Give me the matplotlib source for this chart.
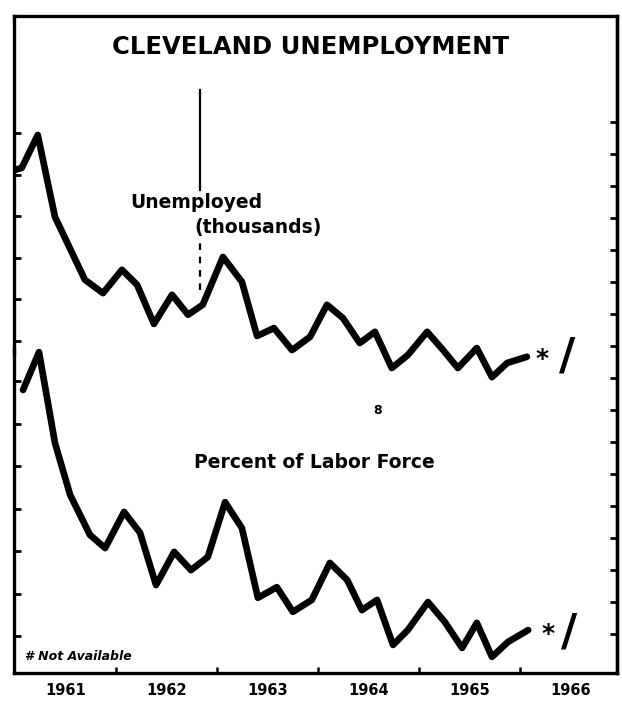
import matplotlib
matplotlib.use("Agg")
import matplotlib.pyplot as plt

# ---------------- data ----------------
# x = months since January 1961
unemp_months = [0.0, 0.8, 2.7, 4.75, 8.3, 10.45, 12.7, 14.5, 16.5, 18.65, 20.55, 22.3,
                24.7, 26.95, 28.75, 30.75, 32.9, 35.05, 37.05, 38.95, 40.95, 42.75,
                44.75, 46.65, 48.95, 50.85, 52.6, 54.85, 56.65, 58.45, 60.8]
unemp_thousands = [71.1, 71.6, 79.5, 59.8, 44.7, 41.5, 47.1, 43.5, 34.1, 41.1, 36.3, 38.7,
                   50.2, 44.2, 31.2, 33.1, 27.8, 31.0, 38.7, 35.5, 29.5, 32.2,
                   23.5, 26.6, 32.2, 27.8, 23.5, 28.3, 21.3, 24.7, 26.2]

pct_months = [0.95, 2.85, 4.75, 6.55, 8.9, 10.7, 12.95, 14.85, 16.75, 18.9, 20.9, 22.9,
              24.95, 26.95, 28.85, 31.1, 33.0, 35.25, 37.4, 39.45, 41.2, 43.0,
              44.9, 46.65, 49.05, 51.05, 53.1, 54.85, 56.65, 58.55, 60.95]
pct_labor_force = [8.8, 9.69, 7.55, 6.33, 5.39, 5.08, 5.93, 5.44, 4.21, 4.99, 4.56, 4.87,
                   6.16, 5.55, 3.91, 4.16, 3.58, 3.86, 4.73, 4.33, 3.62, 3.86,
                   2.8, 3.15, 3.81, 3.34, 2.73, 3.32, 2.52, 2.87, 3.15]

year_labels = ["1961", "1962", "1963", "1964", "1965", "1966"]
unemp_ticks = [30, 40, 50, 60, 70, 80]
pct_ticks = [3, 4, 5, 6, 7, 8, 9]

# ---------------- figure ----------------
W, H = 622, 703
fig = plt.figure(figsize=(W / 100, H / 100), dpi=100)
fig.patch.set_facecolor("white")
rect = [14 / W, 1 - 673 / H, (617 - 14) / W, (673 - 16) / H]

ax = fig.add_axes(rect)
axb = fig.add_axes(rect, facecolor="none")
axr = ax.twinx()

xlim = (-0.12, 71.5)
for a in (ax, axb):
    a.set_xlim(*xlim)
ax.set_ylim(-49.8, 108.1)
axb.set_ylim(2.14, 17.6)
axr.set_ylim(-0.22, 20.31)

LW_FRAME = 2.4
for s in ("top", "bottom", "right", "left"):
    ax.spines[s].set_linewidth(LW_FRAME)
    ax.spines[s].set_color("black")
ax.spines["left"].set_bounds(27.0, 108.1)
for s in ("top", "bottom", "right"):
    axb.spines[s].set_visible(False)
axb.spines["left"].set_linewidth(LW_FRAME)
axb.spines["left"].set_bounds(2.14, 9.78)
for s in ("top", "bottom", "left"):
    axr.spines[s].set_visible(False)
axr.spines["right"].set_linewidth(LW_FRAME)

# ticks
ax.set_yticks(unemp_ticks)
ax.tick_params(axis="y", direction="in", length=5, width=2, labelleft=False, left=True, right=False)
axb.set_yticks(pct_ticks)
axb.tick_params(axis="y", direction="in", length=5, width=2, labelleft=False)
axb.tick_params(axis="x", bottom=False, labelbottom=False)
axr.set_yticks(range(1, 18))
axr.tick_params(axis="y", direction="in", length=5, width=2, labelright=False)

ax.set_xticks([12, 24, 36, 48, 60])
ax.set_xticks([6 + 12 * i for i in range(len(year_labels))], minor=True)
ax.set_xticklabels(year_labels, minor=True, fontsize=10.5, fontweight="heavy", family="DejaVu Sans")
ax.tick_params(axis="x", which="major", direction="in", length=4, width=1.8, labelbottom=False)
ax.tick_params(axis="x", which="minor", length=0, pad=7)

# series
ax.plot(unemp_months, unemp_thousands, color="black", lw=4.8,
        solid_joinstyle="round", solid_capstyle="round", zorder=3)
axb.plot(pct_months, pct_labor_force, color="black", lw=4.8,
         solid_joinstyle="round", solid_capstyle="round", zorder=3)

# not-available markers
bold = dict(fontweight="heavy", family="DejaVu Sans", color="black")
ax.text(62.6, unemp_thousands[-1] - 0.5, "*", fontsize=18, ha="center", va="center", **bold)
axb.text(63.3, pct_labor_force[-1] - 0.1, "*", fontsize=18, ha="center", va="center", **bold)
ax.text(65.6, unemp_thousands[-1] - 0.1, "/", fontsize=32, ha="center", va="center", **bold)
axb.text(65.8, pct_labor_force[-1] - 0.08, "/", fontsize=32, ha="center", va="center", **bold)

# labels
fig.text(310 / W, 1 - 47 / H, "CLEVELAND UNEMPLOYMENT", fontsize=17.5, ha="center", va="center", **bold)
fig.text(130 / W, 1 - 203 / H, "Unemployed", fontsize=13.5, ha="left", va="center", **bold)
fig.text(194 / W, 1 - 228 / H, "(thousands)", fontsize=13.5, ha="left", va="center", **bold)
fig.text(314 / W, 1 - 462 / H, "Percent of Labor Force", fontsize=13.5, ha="center", va="center", **bold)
fig.text(378 / W, 1 - 410 / H, "8", fontsize=9, ha="center", va="center", **bold)
fig.text(25 / W, 1 - 657 / H, "# Not Available", fontsize=9, ha="left", va="center",
         fontstyle="italic", fontweight="heavy", family="DejaVu Sans")

# vertical dash marker from the original print
ax.axvline(22.0, ymin=1 - (190 - 16) / 657, ymax=1 - (90 - 16) / 657, color="black", lw=1.6)
ax.axvline(22.0, ymin=1 - (290 - 16) / 657, ymax=1 - (240 - 16) / 657, color="black", lw=1.6,
           linestyle=(0, (3, 3)))

fig.savefig("out.png", dpi=100, facecolor="white")
